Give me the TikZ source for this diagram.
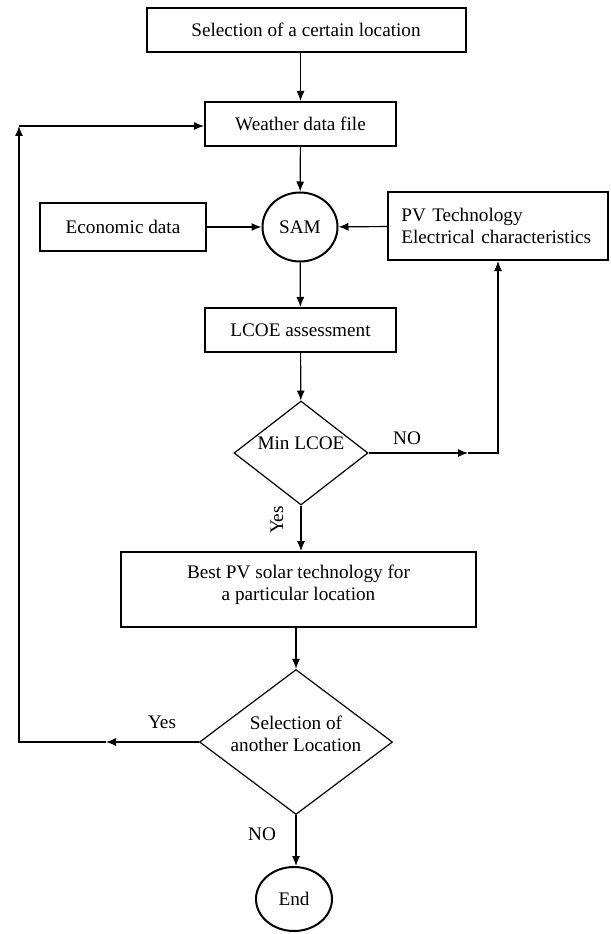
\documentclass[tikz,border=0pt]{standalone}
\usepackage{fontspec}
\setmainfont{Liberation Serif}
\usetikzlibrary{arrows.meta,shapes.geometric}
\tikzset{
 fcnode/.style = {align=center, inner sep=0pt, text centered,
    font=\fontsize{14.4}{16.5}\selectfont},
  fc_box/.style = {fcnode, rectangle, draw=black, line width=1.5pt},% process step
  fc_dec/.style = {fcnode, diamond, aspect=1.3, draw=black, line width=0.9pt},% decision
  fc_term/.style = {fcnode, ellipse, draw=black, line width=1.5pt},% SAM, end
  fc_lbl/.style = {fcnode}% yes / no
}

\begin{document}
\begin{tikzpicture}[->,>={Latex[length=7.5pt,width=6pt]},x=0.75pt,y=-0.75pt,line width=0.9pt]
  \useasboundingbox (0,0) rectangle (610,934);
  \node [fc_box, minimum width=239.25pt, minimum height=33pt] (sel) at (306,30) {Selection of a certain location};
  \node [fc_box, minimum width=143.25pt, minimum height=33pt] (weather) at (300.5,124) {Weather data file};
  \node [fc_term, minimum width=56.25pt, minimum height=51.75pt] (sam) at (300,227) {SAM};
  \node [fc_box, minimum width=124.5pt, minimum height=35.25pt] (econ) at (123,227) {Economic data};
  \node [fc_box, align=left, text width=145pt, inner xsep=10pt, minimum height=51pt] (pv) at (498,226)
  	{PV Technology\\Electrical characteristics};
  \node [fc_box, minimum width=143.25pt, minimum height=33pt] (lcoe) at (300.5,330) {LCOE assessment};
  \node [fc_dec, text depth=15pt, minimum width=100.5pt, minimum height=78pt] (minl) at (301,453) {Min LCOE};
  \node [fc_box, text depth=10pt, minimum width=266.25pt, minimum height=56.25pt] (best) at (298.5,589.5)
  	{Best PV solar technology for\\a particular location};
  \node [fc_dec, text depth=13pt, inner ysep=-5pt, minimum width=144.75pt, minimum height=108.75pt] (sel2) at (296,742)
  	{Selection of\\another Location};
  \node [fc_term, minimum width=57pt, minimum height=48pt] (endn) at (294,899) {End};

  % yes / no labels
  \node [fc_lbl] (no1) at (407,438) {NO};
  \node [fc_lbl, rotate=90] (yes1) at (277,520) {Yes};
  \node [fc_lbl] (yes2) at (162,722) {Yes};
  \node [fc_lbl] (no2) at (262,834) {NO};

  \coordinate (nomid) at (468,453);
  \coordinate (noturn) at (pv.south |- minl.east);
  \coordinate (yesmid) at (106,742);
  \coordinate (lowleft) at (19,742);
  \coordinate (topleft) at (19,126);

  \draw (sel.south -| weather.north) -- (weather.north);
  \draw (weather) -- (sam);
  \draw (econ) -- (sam);
  \draw (pv) -- (sam);
  \draw (sam) -- (lcoe);
  \draw (lcoe) -- (minl);
  \draw (minl.east) -- (nomid);
  \draw (nomid) -- (noturn) -- (pv.south);
  \draw (minl.south) -- (minl.south |- best.north);
  \draw (best.south -| sel2.north) -- (sel2.north);
  \draw (sel2.south) -- (sel2.south |- endn.north);
  \draw (sel2.west) -- (yesmid);
  \draw (yesmid) -- (lowleft) -- (topleft);
  \draw (topleft) -- (topleft -| weather.west);
\end{tikzpicture}
\end{document}
